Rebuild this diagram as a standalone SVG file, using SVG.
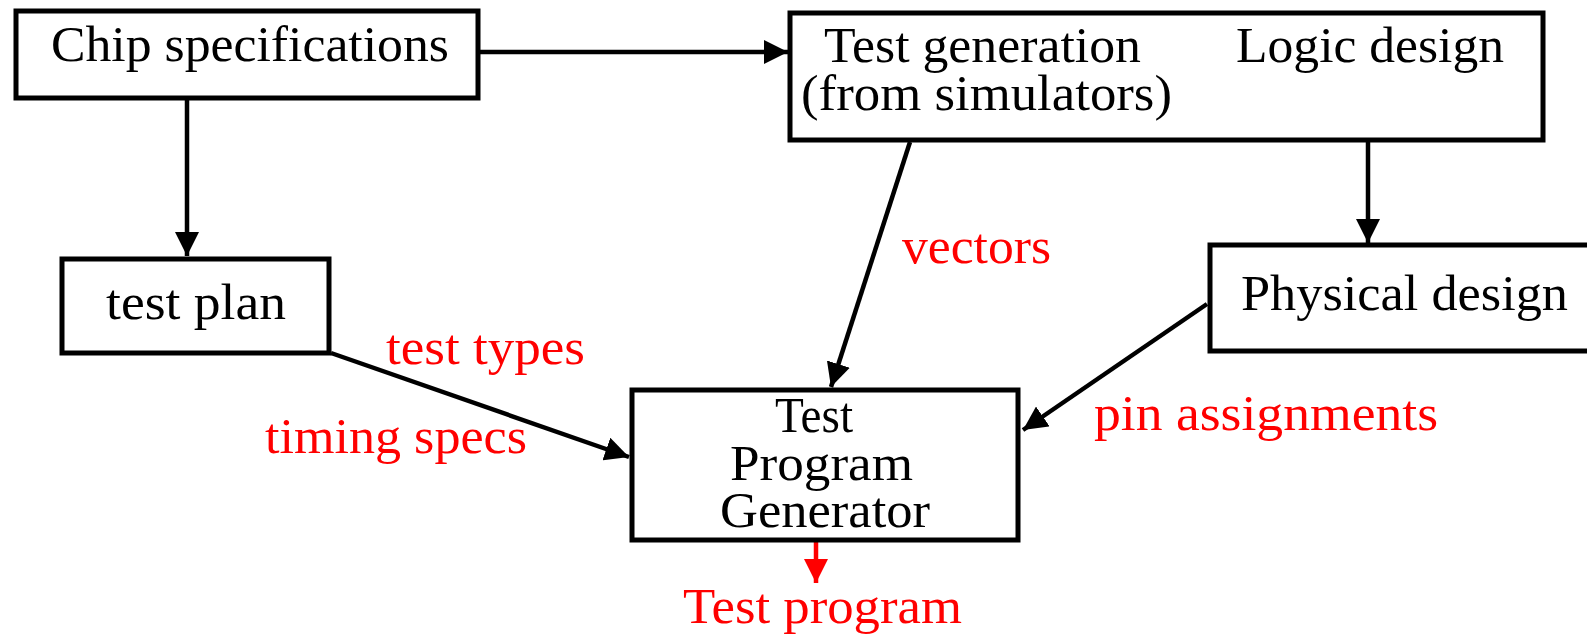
<svg xmlns="http://www.w3.org/2000/svg" width="1587" height="635" viewBox="0 0 1587 635">
<style>
.box{fill:#fff;stroke:#000;stroke-width:5}
.t{font-family:"Liberation Serif","Times New Roman",serif;font-size:50px;fill:#000}
.r{font-family:"Liberation Serif","Times New Roman",serif;font-size:50px;fill:#f00}
.c{stroke:#000;stroke-width:4.5;fill:none;marker-end:url(#ah)}
.cr{stroke:#f00;stroke-width:4.5;fill:none;marker-end:url(#ahr)}
</style>
<defs>
<marker id="ah" markerUnits="userSpaceOnUse" markerWidth="24" markerHeight="24" refX="24" refY="12" orient="auto"><path d="M0,0 L24,12 L0,24 z" fill="#000"/></marker>
<marker id="ahr" markerUnits="userSpaceOnUse" markerWidth="24" markerHeight="24" refX="24" refY="12" orient="auto"><path d="M0,0 L24,12 L0,24 z" fill="#f00"/></marker>
</defs>
<rect width="1587" height="635" fill="#fff"/>
<g id="connectors">
<line class="c" x1="480" y1="52" x2="788" y2="52"/>
<line class="c" x1="187" y1="100" x2="187" y2="256"/>
<line class="c" x1="910" y1="142" x2="831" y2="387"/>
<line class="c" x1="1368" y1="142" x2="1368" y2="243"/>
<line class="c" x1="331" y1="353" x2="629" y2="457"/>
<line class="c" x1="1207" y1="304" x2="1023" y2="430"/>
<line class="cr" x1="816" y1="541" x2="816" y2="583"/>
</g>
<g id="chip-spec">
<rect class="box" x="16" y="11" width="462" height="87"/>
<text class="t" x="51" y="61" textLength="398" lengthAdjust="spacingAndGlyphs">Chip specifications</text>
</g>
<g id="design-block">
<rect class="box" x="790" y="13" width="753" height="127"/>
<text class="t" x="824" y="62" textLength="317" lengthAdjust="spacingAndGlyphs">Test generation</text>
<text class="t" x="801" y="110" textLength="371" lengthAdjust="spacingAndGlyphs">(from simulators)</text>
<text class="t" x="1236" y="62" textLength="268" lengthAdjust="spacingAndGlyphs">Logic design</text>
</g>
<g id="test-plan">
<rect class="box" x="62" y="259" width="267" height="94"/>
<text class="t" x="106" y="319" textLength="180" lengthAdjust="spacingAndGlyphs">test plan</text>
</g>
<g id="physical-design">
<rect class="box" x="1210" y="245" width="400" height="106"/>
<text class="t" x="1241" y="310" textLength="327" lengthAdjust="spacingAndGlyphs">Physical design</text>
</g>
<g id="tpg">
<rect class="box" x="632" y="390" width="386" height="150"/>
<text class="t" x="775" y="432" textLength="78" lengthAdjust="spacingAndGlyphs">Test</text>
<text class="t" x="730" y="480" textLength="183" lengthAdjust="spacingAndGlyphs">Program</text>
<text class="t" x="720" y="527" textLength="210" lengthAdjust="spacingAndGlyphs">Generator</text>
</g>
<g id="labels">
<text class="r" x="902" y="263" textLength="149" lengthAdjust="spacingAndGlyphs">vectors</text>
<text class="r" x="386" y="364" textLength="199" lengthAdjust="spacingAndGlyphs">test types</text>
<text class="r" x="265" y="453" textLength="262" lengthAdjust="spacingAndGlyphs">timing specs</text>
<text class="r" x="1094" y="430" textLength="344" lengthAdjust="spacingAndGlyphs">pin assignments</text>
<text class="r" x="683" y="623" textLength="279" lengthAdjust="spacingAndGlyphs">Test program</text>
</g>
</svg>
